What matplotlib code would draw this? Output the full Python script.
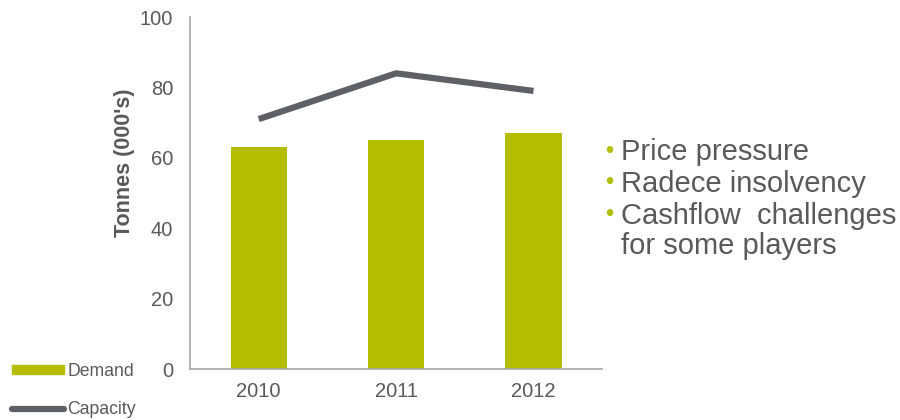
import matplotlib.pyplot as plt
from matplotlib.lines import Line2D
from matplotlib.patches import Patch

plt.rcParams['font.family'] = ['Liberation Sans', 'DejaVu Sans']

years = ['2010', '2011', '2012']
demand = [63, 65, 67]
capacity = [71, 84, 79]
notes = ['Price pressure', 'Radece insolvency', 'Cashflow  challenges\nfor some players']

green = '#b5bd00'
grey = '#5d6166'
text_grey = '#595959'
axis_grey = '#a6a6a6'

fig = plt.figure(figsize=(9, 4.2), dpi=100)
ax = fig.add_axes([0.2111, 0.1214, 0.458, 0.8381])

x = range(len(years))
ax.bar(x, demand, width=0.41, color=green)
ax.plot(x, capacity, color=grey, linewidth=4.5, solid_capstyle='butt')

ax.set_xlim(-0.5, 2.5)
ax.set_ylim(0, 100)
ax.set_xticks(list(x))
ax.set_xticklabels(years)
ax.set_yticks(range(0, 101, 20))
ax.tick_params(axis='both', length=0, labelsize=14.5, colors=text_grey)
ax.tick_params(axis='y', pad=12)
ax.tick_params(axis='x', pad=9)
for side in ['top', 'right']:
    ax.spines[side].set_visible(False)
for side in ['left', 'bottom']:
    ax.spines[side].set_color(axis_grey)
    ax.spines[side].set_linewidth(1.2)

# axis title sits a bit above the middle of the axis
fig.text(0.138, 0.613, "Tonnes (000's)", rotation=90, fontsize=15.5, fontweight='bold',
         color=text_grey, ha='center', va='center')

# legend in the lower left corner
handles = [Patch(color=green), Line2D([0], [0], color=grey, linewidth=4.5, solid_capstyle='round')]
fig.legend(handles, ['Demand', 'Capacity'], loc='lower left', bbox_to_anchor=(0.0, -0.025),
           frameon=False, fontsize=12.7, labelcolor=text_grey, handlelength=2.95,
           handletextpad=0.15, labelspacing=1.2, handleheight=0.45, borderaxespad=0.3)

# bullet notes on the right
y = 0.665
for note in notes:
    fig.text(0.672, y, '•', fontsize=17, color=green, va='top')
    fig.text(0.690, y + 0.006, note, fontsize=21, color=text_grey, va='top', linespacing=1.12)
    y -= 0.0755 * (note.count('\n') + 1)

fig.savefig('out.png', dpi=100)
